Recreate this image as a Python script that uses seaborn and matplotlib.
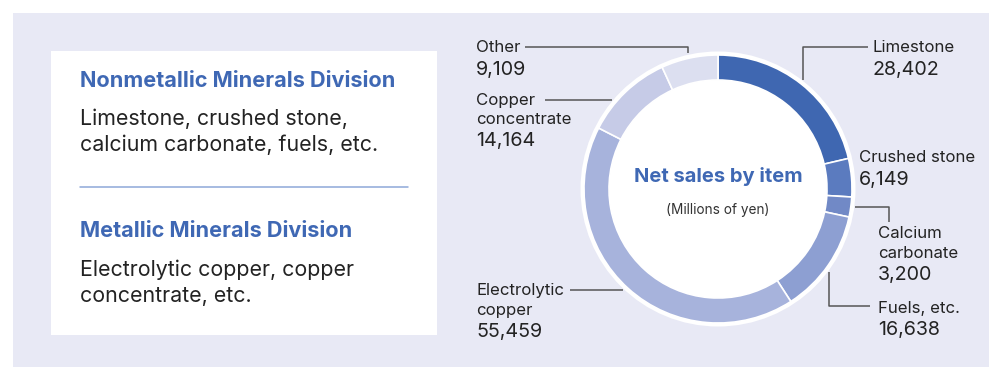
import matplotlib
matplotlib.use("Agg")
import matplotlib.pyplot as plt
import seaborn as sns
from matplotlib.patches import Rectangle, Circle

# ---- data ----
items = ["Limestone", "Crushed stone", "Calcium carbonate", "Fuels, etc.",
         "Electrolytic copper", "Copper concentrate", "Other"]
sales = [28402, 6149, 3200, 16638, 55459, 14164, 9109]
colors = ["#3f67b1", "#5b7bbf", "#7189c6", "#8d9fd2", "#a7b3dc", "#c6cbe7", "#dcdff0"]
label_lines = [["Limestone"], ["Crushed stone"], ["Calcium", "carbonate"], ["Fuels, etc."],
               ["Electrolytic", "copper"], ["Copper", "concentrate"], ["Other"]]
value_text = ["28,402", "6,149", "3,200", "16,638", "55,459", "14,164", "9,109"]

div_titles = ["Nonmetallic Minerals Division", "Metallic Minerals Division"]
div_texts = [["Limestone, crushed stone,", "calcium carbonate, fuels, etc."],
             ["Electrolytic copper, copper", "concentrate, etc."]]
center_title = "Net sales by item"
center_unit = "(Millions of yen)"

sns.set_theme(style="white")
plt.rcParams["font.family"] = ["Inter", "DejaVu Sans"]

W, H = 989, 367
fig = plt.figure(figsize=(W / 100, H / 100), dpi=100)
fig.patch.set_facecolor("white")
ax = fig.add_axes([0, 0, 1, 1])

def Y(y):
    return H - y

BLUE = "#3f68b4"
DARK = "#232323"
LINE = "#555555"

# background panels
ax.add_patch(Rectangle((13, Y(367)), 976, 354, facecolor="#e8e9f5", edgecolor="none", zorder=0))
ax.add_patch(Rectangle((51, Y(335)), 386, 284, facecolor="white", edgecolor="none", zorder=1))

# donut
cx, cy = 718, Y(189)
R = 134
ax.add_patch(Circle((cx, cy), R + 3.5, facecolor="white", edgecolor="none", zorder=2))
wedges, _ = ax.pie(sales, colors=colors, startangle=90, counterclock=False,
                   radius=R, center=(cx, cy), frame=True,
                   wedgeprops=dict(width=25, edgecolor="white", linewidth=1.2))
for w in wedges:
    w.set_zorder(3)

ax.set_xlim(0, W)
ax.set_ylim(0, H)
ax.set_aspect("auto")
ax.axis("off")

# center text
ax.text(cx, Y(176), center_title, color=BLUE, fontsize=14.5, fontweight="bold",
        ha="center", va="center", zorder=5)
ax.text(cx, Y(210), center_unit, color="#333333", fontsize=9.8,
        ha="center", va="center", zorder=5)

# labels
lab_pos = [(873, 48), (859, 158), (878, 234), (878, 308), (476, 291), (476, 100), (476, 48)]
LFS, VFS = 12.1, 14.2
for (x, y), lines, val in zip(lab_pos, label_lines, value_text):
    yy = y
    for ln in lines:
        ax.text(x, Y(yy), ln, color=DARK, fontsize=LFS, ha="left", va="center", zorder=5)
        yy += 19
    ax.text(x, Y(yy + 3), val, color=DARK, fontsize=VFS, ha="left", va="center", zorder=5)

# leader lines
leaders = [
    [(868, 47), (803, 47), (803, 80)],
    [(855, 207), (889, 207), (889, 222)],
    [(829, 272), (829, 306), (870, 306)],
    [(570, 290), (623, 290)],
    [(545, 100), (612, 100)],
    [(525, 47), (688, 47), (688, 53)],
]
for pts in leaders:
    xs = [p[0] for p in pts]
    ys = [Y(p[1]) for p in pts]
    ax.plot(xs, ys, color=LINE, lw=1.1, zorder=4, solid_capstyle="butt")

# division box
TFS, BFS = 15.6, 15.4
ax.text(80, Y(81), div_titles[0], color=BLUE, fontsize=TFS, fontweight="bold",
        ha="left", va="center", zorder=5)
ax.text(80, Y(119), div_texts[0][0], color=DARK, fontsize=BFS, ha="left", va="center", zorder=5)
ax.text(80, Y(145), div_texts[0][1], color=DARK, fontsize=BFS, ha="left", va="center", zorder=5)
ax.plot([80, 408], [Y(187), Y(187)], color="#8ea8d8", lw=1.1, zorder=5)
ax.text(80, Y(231), div_titles[1], color=BLUE, fontsize=TFS, fontweight="bold",
        ha="left", va="center", zorder=5)
ax.text(80, Y(270), div_texts[1][0], color=DARK, fontsize=BFS, ha="left", va="center", zorder=5)
ax.text(80, Y(296), div_texts[1][1], color=DARK, fontsize=BFS, ha="left", va="center", zorder=5)

fig.savefig("out.png", dpi=100)
